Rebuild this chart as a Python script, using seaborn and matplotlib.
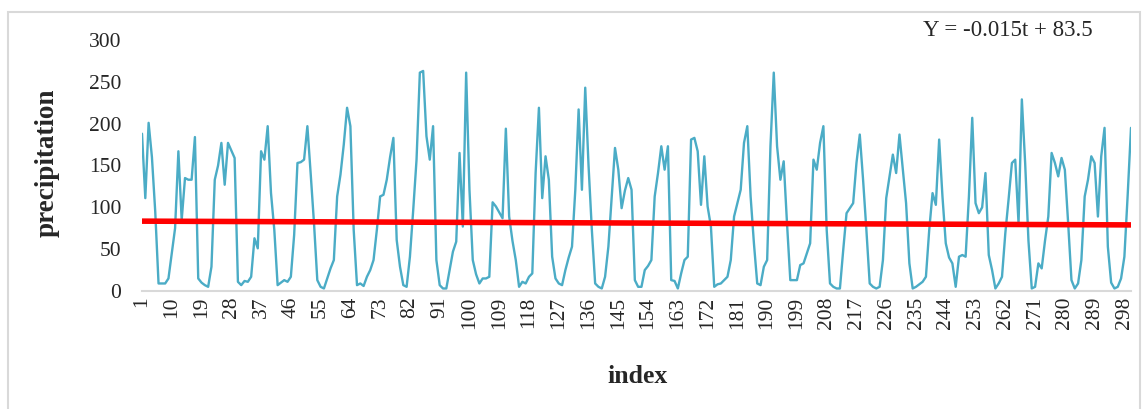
import matplotlib
matplotlib.use("Agg")
import matplotlib.pyplot as plt
import seaborn as sns
import pandas as pd
import numpy as np
from matplotlib.patches import Rectangle

# ---- data ----
precip_1_50 = [188, 111, 201, 160, 95, 9, 9, 9, 15, 45,
               75, 167, 85, 135, 133, 133, 184, 15, 10, 7,
               5, 29, 133, 150, 177, 127, 177, 168, 159, 11,
               7, 12, 11, 17, 63, 51, 167, 157, 197, 117,
               73, 7, 10, 13, 11, 17, 67, 153, 154, 157]
precip_51_100 = [197, 140, 81, 13, 5, 3, 15, 27, 37, 113,
                 139, 175, 219, 197, 73, 7, 9, 6, 17, 25,
                 37, 73, 113, 115, 133, 160, 183, 61, 29, 7,
                 5, 41, 97, 157, 261, 263, 185, 157, 197, 37,
                 7, 3, 3, 25, 47, 59, 165, 77, 261, 121]
precip_101_150 = [37, 20, 9, 15, 15, 17, 106, 101, 94, 87,
                  194, 89, 60, 37, 5, 11, 9, 17, 21, 141,
                  219, 111, 161, 133, 41, 15, 9, 7, 25, 40,
                  53, 121, 217, 121, 243, 150, 73, 9, 5, 3,
                  17, 53, 113, 171, 145, 99, 120, 135, 121, 13]
precip_151_200 = [5, 5, 25, 30, 37, 113, 141, 173, 145, 173,
                  13, 12, 3, 21, 37, 41, 181, 183, 167, 103,
                  161, 101, 77, 5, 8, 9, 13, 17, 37, 89,
                  105, 121, 177, 197, 113, 57, 9, 7, 29, 37,
                  173, 261, 173, 133, 155, 81, 13, 13, 13, 31]
precip_201_250 = [33, 45, 57, 157, 145, 177, 197, 73, 9, 5,
                  3, 3, 49, 93, 99, 105, 153, 187, 133, 73,
                  9, 5, 3, 5, 37, 111, 137, 163, 141, 187,
                  146, 105, 33, 3, 5, 8, 11, 17, 73, 117,
                  103, 181, 113, 57, 40, 33, 5, 41, 43, 41]
precip_251_300 = [113, 207, 105, 93, 100, 141, 43, 25, 3, 9,
                  17, 69, 110, 153, 157, 81, 229, 153, 60, 3,
                  5, 33, 27, 60, 89, 165, 153, 137, 159, 145,
                  81, 13, 3, 9, 37, 113, 133, 161, 153, 89,
                  161, 195, 53, 10, 3, 5, 15, 41, 115, 195]
precipitation = (precip_1_50 + precip_51_100 + precip_101_150 +
                 precip_151_200 + precip_201_250 + precip_251_300)
index = list(range(1, len(precipitation) + 1))

trend_slope = -0.015
trend_intercept = 83.5
equation_text = "Y = -0.015t + 83.5"

x_ticks = list(range(1, 300, 9))
y_ticks = [0, 50, 100, 150, 200, 250, 300]

df = pd.DataFrame({"index": index, "precipitation": precipitation})
df["trend"] = trend_intercept + trend_slope * df["index"]

# ---- style ----
sns.set_style("white")
plt.rcParams["font.family"] = ["Liberation Serif", "DejaVu Serif"]

W, H = 1147, 409
fig = plt.figure(figsize=(W / 100, H / 100), dpi=100)
ax = fig.add_axes([142 / W, 1 - 291 / H, (1131 - 142) / W, (291 - 40) / H])

sns.lineplot(data=df, x="index", y="precipitation", ax=ax,
             color="#4bacc6", linewidth=1.7)
sns.lineplot(data=df, x="index", y="trend", ax=ax,
             color="#ff0000", linewidth=4.0)

ax.set_xlim(1, 300)
ax.set_ylim(0, 300)
ax.set_xticks(x_ticks)
ax.set_xticklabels([str(t) for t in x_ticks], rotation=90, fontsize=15.5)
ax.set_yticks(y_ticks)
ax.set_yticklabels([str(t) for t in y_ticks], fontsize=15.5)
ax.tick_params(axis="x", length=0, pad=4)
ax.tick_params(axis="y", length=0, pad=15)

for s in ["top", "right", "left"]:
    ax.spines[s].set_visible(False)
ax.spines["bottom"].set_color("#d9d9d9")
ax.spines["bottom"].set_linewidth(1.5)
ax.grid(False)
ax.patch.set_alpha(0)

ax.set_xlabel("index", fontsize=18.5, fontweight="bold")
ax.set_ylabel("precipitation", fontsize=19.5, fontweight="bold")
ax.xaxis.set_label_coords((638 - 142) / (1131 - 142), (291 - 365) / (291 - 40))
ax.yaxis.set_label_coords((60 - 142) / (1131 - 142), (291 - 163) / (291 - 40))

fig.text(1008 / W, 1 - 30 / H, equation_text, fontsize=16.5,
         ha="center", va="center")

# outer chart border
fig.patches.append(Rectangle((8 / W, -0.05), (1140 - 8) / W, 1 - 12 / H + 0.05,
                             transform=fig.transFigure, fill=False,
                             edgecolor="#d9d9d9", linewidth=1.5, zorder=0))

fig.savefig("out.png", dpi=100)
